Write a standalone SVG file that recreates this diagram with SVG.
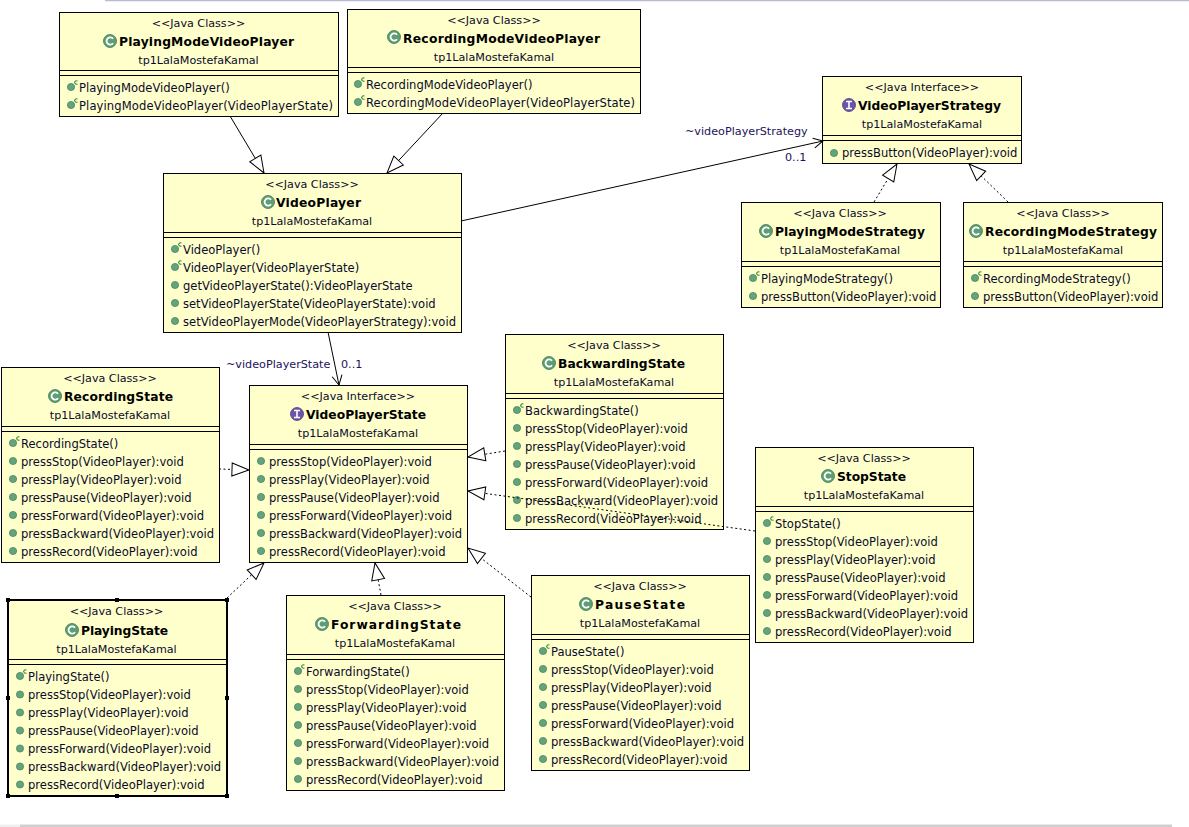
<svg xmlns="http://www.w3.org/2000/svg" xmlns:xlink="http://www.w3.org/1999/xlink" width="1189" height="827" viewBox="0 0 1189 827">
<style>
text{font-family:"DejaVu Sans","Liberation Sans",sans-serif;font-size:11.55px;fill:#0a0a2a}
.c{text-anchor:middle;font-size:11.15px}
.n{font-weight:bold;font-size:12.3px;fill:#000}
.l{fill:#24125c;font-size:11.2px}
.box{fill:#ffffcc;stroke:#000;stroke-width:1}
.sep{stroke:#000;stroke-width:1;fill:none}
.ln{stroke:#000;stroke-width:1;fill:none}
.ds{stroke:#000;stroke-width:1;fill:none;stroke-dasharray:2 2.500}
.h{fill:#000}
</style>
<defs>
<marker id="tri" markerUnits="userSpaceOnUse" markerWidth="20" markerHeight="16" refX="18" refY="8" orient="auto"><path d="M1 1.5L18 8L1 14.500Z" fill="#fff" stroke="#000"/></marker>
<marker id="open" markerUnits="userSpaceOnUse" markerWidth="12" markerHeight="14" refX="10.500" refY="7" orient="auto"><path d="M1 2L10.500 7L1 12" fill="none" stroke="#000"/></marker>
<g id="ic"><circle r="6.500" fill="#5f9e74" stroke="#3f7a57" stroke-width=".8"/><path d="M3 -2.200A3.600 3.600 0 1 0 3 2.200" fill="none" stroke="#fff" stroke-width="1.800"/></g>
<g id="ii"><circle r="6.500" fill="#6a55a8" stroke="#4e3d8a" stroke-width=".8"/><path d="M-3-3.500H3M-3 3.500H3M0-3.500V3.500" fill="none" stroke="#fff" stroke-width="1.600"/></g>
<g id="m"><circle r="3.600" fill="#64a37c" stroke="#3f7f59" stroke-width=".7"/></g>
<g id="k"><circle r="3.600" fill="#64a37c" stroke="#3f7f59" stroke-width=".7"/><path d="M6.500-5.800A1.700 1.700 0 1 0 6.500-3.200" fill="none" stroke="#2f8a3f" stroke-width="1.100"/></g>
</defs>
<path d="M105 .5H1189" stroke="#b8bcd2" stroke-width="1.500"/>
<path d="M0 826H20" stroke="#efefef" stroke-width="3"/>
<path d="M20 826H1172" stroke="#cfcfcf" stroke-width="3"/>

<g id="PlayingModeVideoPlayer"><rect class="box" x="59.500" y="12.500" width="279" height="104"/><path class="sep" d="M59.500 70.500H338.500M59.500 75.500H338.500"/>
<text class="c" x="198.500" y="27">&lt;&lt;Java Class&gt;&gt;</text><use href="#ic" x="110" y="41"/><text class="n" x="119" y="46" textLength="175">PlayingModeVideoPlayer</text><text class="c" x="198.500" y="64">tp1LalaMostefaKamal</text>
<use href="#k" x="71" y="87"/><text x="79" y="92">PlayingModeVideoPlayer()</text>
<use href="#k" x="71" y="105"/><text x="79" y="110" textLength="254">PlayingModeVideoPlayer(VideoPlayerState)</text></g>

<g id="RecordingModeVideoPlayer"><rect class="box" x="347.500" y="9.500" width="293" height="104"/><path class="sep" d="M347.500 67.500H640.500M347.500 72.500H640.500"/>
<text class="c" x="494" y="24">&lt;&lt;Java Class&gt;&gt;</text><use href="#ic" x="394" y="37"/><text class="n" x="403" y="43" textLength="197">RecordingModeVideoPlayer</text><text class="c" x="494" y="61">tp1LalaMostefaKamal</text>
<use href="#k" x="358" y="84"/><text x="366" y="89">RecordingModeVideoPlayer()</text>
<use href="#k" x="358" y="102"/><text x="366" y="107" textLength="269">RecordingModeVideoPlayer(VideoPlayerState)</text></g>

<g id="VideoPlayer"><rect class="box" x="163.500" y="173.500" width="298" height="159"/><path class="sep" d="M163.500 232.500H461.500M163.500 237.500H461.500"/>
<text class="c" x="312" y="188">&lt;&lt;Java Class&gt;&gt;</text><use href="#ic" x="268" y="202"/><text class="n" x="276" y="207" textLength="85">VideoPlayer</text><text class="c" x="312" y="225">tp1LalaMostefaKamal</text>
<use href="#k" x="175" y="249"/><text x="183" y="254">VideoPlayer()</text>
<use href="#k" x="175" y="267"/><text x="183" y="272">VideoPlayer(VideoPlayerState)</text>
<use href="#m" x="175" y="285"/><text x="183" y="290">getVideoPlayerState():VideoPlayerState</text>
<use href="#m" x="175" y="303"/><text x="183" y="308">setVideoPlayerState(VideoPlayerState):void</text>
<use href="#m" x="175" y="321"/><text x="183" y="326" textLength="273">setVideoPlayerMode(VideoPlayerStrategy):void</text></g>

<g id="VideoPlayerStrategy"><rect class="box" x="822.500" y="76.500" width="199" height="87"/><path class="sep" d="M822.500 135.500H1021.500M822.500 140.500H1021.500"/>
<text class="c" x="922" y="91">&lt;&lt;Java Interface&gt;&gt;</text><use href="#ii" x="849" y="105"/><text class="n" x="858" y="110" textLength="143">VideoPlayerStrategy</text><text class="c" x="922" y="128">tp1LalaMostefaKamal</text>
<use href="#m" x="834" y="153"/><text x="842" y="157">pressButton(VideoPlayer):void</text></g>

<g id="PlayingModeStrategy"><rect class="box" x="741.500" y="202.500" width="199" height="105"/><path class="sep" d="M741.500 261.500H940.500M741.500 266.500H940.500"/>
<text class="c" x="840" y="217">&lt;&lt;Java Class&gt;&gt;</text><use href="#ic" x="766" y="231"/><text class="n" x="775" y="236" textLength="150">PlayingModeStrategy</text><text class="c" x="840" y="254">tp1LalaMostefaKamal</text>
<use href="#k" x="753" y="278"/><text x="761" y="283">PlayingModeStrategy()</text>
<use href="#m" x="753" y="296"/><text x="761" y="301">pressButton(VideoPlayer):void</text></g>

<g id="RecordingModeStrategy"><rect class="box" x="963.500" y="202.500" width="199" height="105"/><path class="sep" d="M963.500 261.500H1162.500M963.500 266.500H1162.500"/>
<text class="c" x="1063" y="217">&lt;&lt;Java Class&gt;&gt;</text><use href="#ic" x="976" y="231"/><text class="n" x="985" y="236" textLength="172">RecordingModeStrategy</text><text class="c" x="1063" y="254">tp1LalaMostefaKamal</text>
<use href="#k" x="975" y="278"/><text x="983" y="283">RecordingModeStrategy()</text>
<use href="#m" x="975" y="296"/><text x="983" y="301">pressButton(VideoPlayer):void</text></g>

<g id="RecordingState"><rect class="box" x="1.500" y="367.500" width="218" height="195"/><path class="sep" d="M1.500 426.500H219.500M1.500 431.500H219.500"/>
<text class="c" x="110" y="382">&lt;&lt;Java Class&gt;&gt;</text><use href="#ic" x="55" y="396"/><text class="n" x="64" y="401" textLength="109">RecordingState</text><text class="c" x="110" y="419">tp1LalaMostefaKamal</text>
<use href="#k" x="13" y="443"/><text x="21" y="448">RecordingState()</text>
<use href="#m" x="13" y="461"/><text x="21" y="466">pressStop(VideoPlayer):void</text>
<use href="#m" x="13" y="479"/><text x="21" y="484">pressPlay(VideoPlayer):void</text>
<use href="#m" x="13" y="497"/><text x="21" y="502">pressPause(VideoPlayer):void</text>
<use href="#m" x="13" y="515"/><text x="21" y="520">pressForward(VideoPlayer):void</text>
<use href="#m" x="13" y="533"/><text x="21" y="538">pressBackward(VideoPlayer):void</text>
<use href="#m" x="13" y="551"/><text x="21" y="556">pressRecord(VideoPlayer):void</text></g>

<g id="VideoPlayerState"><rect class="box" x="249.500" y="385.500" width="218" height="177"/><path class="sep" d="M249.500 444.500H467.500M249.500 449.500H467.500"/>
<text class="c" x="358" y="400">&lt;&lt;Java Interface&gt;&gt;</text><use href="#ii" x="297" y="414"/><text class="n" x="306" y="419" textLength="120">VideoPlayerState</text><text class="c" x="358" y="437">tp1LalaMostefaKamal</text>
<use href="#m" x="261" y="461"/><text x="269" y="466">pressStop(VideoPlayer):void</text>
<use href="#m" x="261" y="479"/><text x="269" y="484">pressPlay(VideoPlayer):void</text>
<use href="#m" x="261" y="497"/><text x="269" y="502">pressPause(VideoPlayer):void</text>
<use href="#m" x="261" y="515"/><text x="269" y="520">pressForward(VideoPlayer):void</text>
<use href="#m" x="261" y="533"/><text x="269" y="538">pressBackward(VideoPlayer):void</text>
<use href="#m" x="261" y="551"/><text x="269" y="556">pressRecord(VideoPlayer):void</text></g>

<g id="BackwardingState"><rect class="box" x="505.500" y="334.500" width="218" height="195"/><path class="sep" d="M505.500 393.500H723.500M505.500 398.500H723.500"/>
<text class="c" x="614" y="349">&lt;&lt;Java Class&gt;&gt;</text><use href="#ic" x="549" y="363"/><text class="n" x="558" y="368" textLength="127">BackwardingState</text><text class="c" x="614" y="386">tp1LalaMostefaKamal</text>
<use href="#k" x="517" y="410"/><text x="525" y="415">BackwardingState()</text>
<use href="#m" x="517" y="428"/><text x="525" y="433">pressStop(VideoPlayer):void</text>
<use href="#m" x="517" y="446"/><text x="525" y="451">pressPlay(VideoPlayer):void</text>
<use href="#m" x="517" y="464"/><text x="525" y="469">pressPause(VideoPlayer):void</text>
<use href="#m" x="517" y="482"/><text x="525" y="487">pressForward(VideoPlayer):void</text>
<use href="#m" x="517" y="500"/><text x="525" y="505">pressBackward(VideoPlayer):void</text>
<use href="#m" x="517" y="518"/><text x="525" y="523">pressRecord(VideoPlayer):void</text></g>

<g id="StopState"><rect class="box" x="755.500" y="447.500" width="218" height="195"/><path class="sep" d="M755.500 506.500H973.500M755.500 511.500H973.500"/>
<text class="c" x="864" y="462">&lt;&lt;Java Class&gt;&gt;</text><use href="#ic" x="828" y="476"/><text class="n" x="837" y="481" textLength="69">StopState</text><text class="c" x="864" y="499">tp1LalaMostefaKamal</text>
<use href="#k" x="767" y="523"/><text x="775" y="528">StopState()</text>
<use href="#m" x="767" y="541"/><text x="775" y="546">pressStop(VideoPlayer):void</text>
<use href="#m" x="767" y="559"/><text x="775" y="564">pressPlay(VideoPlayer):void</text>
<use href="#m" x="767" y="577"/><text x="775" y="582">pressPause(VideoPlayer):void</text>
<use href="#m" x="767" y="595"/><text x="775" y="600">pressForward(VideoPlayer):void</text>
<use href="#m" x="767" y="613"/><text x="775" y="618">pressBackward(VideoPlayer):void</text>
<use href="#m" x="767" y="631"/><text x="775" y="636">pressRecord(VideoPlayer):void</text></g>

<g id="PlayingState"><rect class="box" x="8" y="600" width="219" height="196" style="stroke-width:2"/><path class="sep" d="M8 659.500H227M8 664.500H227"/>
<text class="c" x="116.500" y="615">&lt;&lt;Java Class&gt;&gt;</text><use href="#ic" x="72" y="630"/><text class="n" x="81" y="635" textLength="87">PlayingState</text><text class="c" x="116.500" y="653">tp1LalaMostefaKamal</text>
<use href="#k" x="20" y="676"/><text x="28" y="681">PlayingState()</text>
<use href="#m" x="20" y="694.500"/><text x="28" y="699">pressStop(VideoPlayer):void</text>
<use href="#m" x="20" y="712.500"/><text x="28" y="717">pressPlay(VideoPlayer):void</text>
<use href="#m" x="20" y="730.500"/><text x="28" y="735">pressPause(VideoPlayer):void</text>
<use href="#m" x="20" y="748.500"/><text x="28" y="753">pressForward(VideoPlayer):void</text>
<use href="#m" x="20" y="766.500"/><text x="28" y="771">pressBackward(VideoPlayer):void</text>
<use href="#m" x="20" y="784.500"/><text x="28" y="789">pressRecord(VideoPlayer):void</text>
<path class="h" d="M6 598h4v4h-4zM115 598h4v4h-4zM225 598h4v4h-4zM6 696h4v4h-4zM225 696h4v4h-4zM6 794h4v4h-4zM115 794h4v4h-4zM225 794h4v4h-4z"/></g>

<g id="ForwardingState"><rect class="box" x="286.500" y="595.500" width="218" height="195"/><path class="sep" d="M286.500 654.500H504.500M286.500 659.500H504.500"/>
<text class="c" x="395" y="610">&lt;&lt;Java Class&gt;&gt;</text><use href="#ic" x="322" y="624"/><text class="n" x="331" y="629" textLength="130">ForwardingState</text><text class="c" x="395" y="647">tp1LalaMostefaKamal</text>
<use href="#k" x="298" y="671"/><text x="306" y="676">ForwardingState()</text>
<use href="#m" x="298" y="689"/><text x="306" y="694">pressStop(VideoPlayer):void</text>
<use href="#m" x="298" y="707"/><text x="306" y="712">pressPlay(VideoPlayer):void</text>
<use href="#m" x="298" y="725"/><text x="306" y="730">pressPause(VideoPlayer):void</text>
<use href="#m" x="298" y="743"/><text x="306" y="748">pressForward(VideoPlayer):void</text>
<use href="#m" x="298" y="761"/><text x="306" y="766">pressBackward(VideoPlayer):void</text>
<use href="#m" x="298" y="779"/><text x="306" y="784">pressRecord(VideoPlayer):void</text></g>

<g id="PauseState"><rect class="box" x="531.500" y="575.500" width="218" height="195"/><path class="sep" d="M531.500 634.500H749.500M531.500 639.500H749.500"/>
<text class="c" x="640" y="590">&lt;&lt;Java Class&gt;&gt;</text><use href="#ic" x="586" y="604"/><text class="n" x="595" y="609" textLength="90">PauseState</text><text class="c" x="640" y="627">tp1LalaMostefaKamal</text>
<use href="#k" x="543" y="651"/><text x="551" y="656">PauseState()</text>
<use href="#m" x="543" y="669"/><text x="551" y="674">pressStop(VideoPlayer):void</text>
<use href="#m" x="543" y="687"/><text x="551" y="692">pressPlay(VideoPlayer):void</text>
<use href="#m" x="543" y="705"/><text x="551" y="710">pressPause(VideoPlayer):void</text>
<use href="#m" x="543" y="723"/><text x="551" y="728">pressForward(VideoPlayer):void</text>
<use href="#m" x="543" y="741"/><text x="551" y="746">pressBackward(VideoPlayer):void</text>
<use href="#m" x="543" y="759"/><text x="551" y="764">pressRecord(VideoPlayer):void</text></g>

<g id="connectors">
<path class="ln" marker-end="url(#tri)" d="M230 116L264 173"/>
<path class="ln" marker-end="url(#tri)" d="M443 113L387 173"/>
<path class="ln" marker-end="url(#open)" d="M461 221L823 141"/>
<path class="ln" marker-end="url(#open)" d="M328 332L339 385"/>
<path class="ds" marker-end="url(#tri)" d="M874 202L897 164"/>
<path class="ds" marker-end="url(#tri)" d="M1008 202L969 164"/>
<path class="ds" marker-end="url(#tri)" d="M219 469L249 470"/>
<path class="ds" marker-end="url(#tri)" d="M505 451L468 457"/>
<path class="ds" marker-end="url(#tri)" d="M755 531L468 491"/>
<path class="ds" marker-end="url(#tri)" d="M227 598L264 563"/>
<path class="ds" marker-end="url(#tri)" d="M381 595L375 563"/>
<path class="ds" marker-end="url(#tri)" d="M531 597L468 548"/>
<text class="l" x="685" y="135">~videoPlayerStrategy</text>
<text class="l" x="785" y="161">0..1</text>
<text class="l" x="226" y="368">~videoPlayerState</text>
<text class="l" x="341" y="368">0..1</text>
</g>
</svg>
